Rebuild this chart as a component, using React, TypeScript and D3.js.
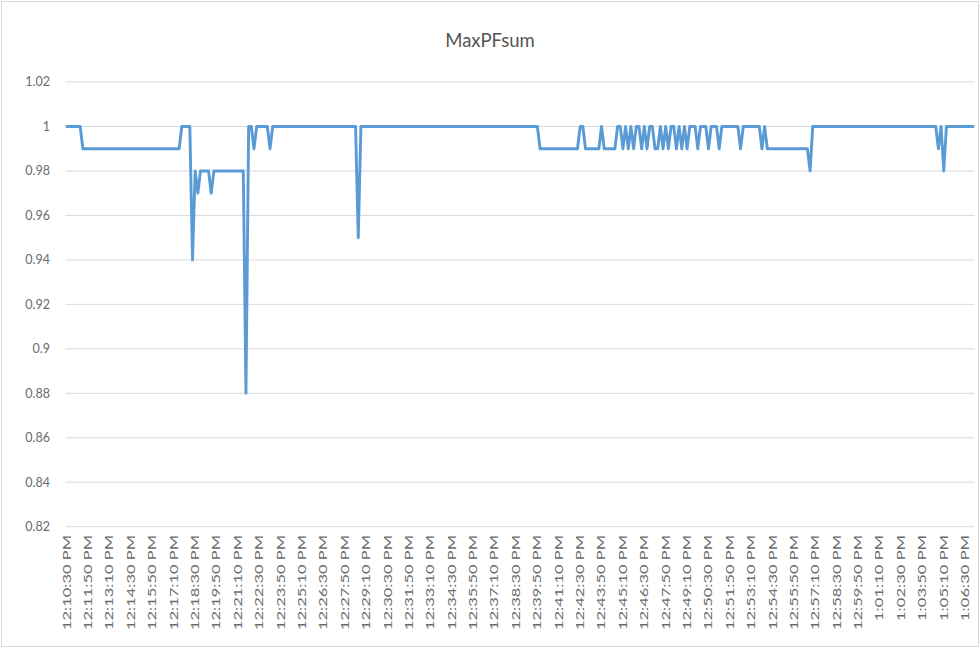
import React from "react";
import * as d3 from "d3";

const title = "MaxPFsum";

const yTicks = [0.82, 0.84, 0.86, 0.88, 0.9, 0.92, 0.94, 0.96, 0.98, 1, 1.02];

const tickLabels = [
  "12:10:30 PM", "12:11:50 PM", "12:13:10 PM", "12:14:30 PM", "12:15:50 PM",
  "12:17:10 PM", "12:18:30 PM", "12:19:50 PM", "12:21:10 PM", "12:22:30 PM",
  "12:23:50 PM", "12:25:10 PM", "12:26:30 PM", "12:27:50 PM", "12:29:10 PM",
  "12:30:30 PM", "12:31:50 PM", "12:33:10 PM", "12:34:30 PM", "12:35:50 PM",
  "12:37:10 PM", "12:38:30 PM", "12:39:50 PM", "12:41:10 PM", "12:42:30 PM",
  "12:43:50 PM", "12:45:10 PM", "12:46:30 PM", "12:47:50 PM", "12:49:10 PM",
  "12:50:30 PM", "12:51:50 PM", "12:53:10 PM", "12:54:30 PM", "12:55:50 PM",
  "12:57:10 PM", "12:58:30 PM", "12:59:50 PM", "1:01:10 PM", "1:02:30 PM",
  "1:03:50 PM", "1:05:10 PM", "1:06:30 PM",
];

// one reading every 10 seconds, labels every 8th category
const labelEvery = 8;

const maxPFsum = [
  1, 1, 1, 1, 1, 1, 0.99, 0.99, 0.99, 0.99,
  0.99, 0.99, 0.99, 0.99, 0.99, 0.99, 0.99, 0.99, 0.99, 0.99,
  0.99, 0.99, 0.99, 0.99, 0.99, 0.99, 0.99, 0.99, 0.99, 0.99,
  0.99, 0.99, 0.99, 0.99, 0.99, 0.99, 0.99, 0.99, 0.99, 0.99,
  0.99, 0.99, 0.99, 1, 1, 1, 1, 0.94, 0.98, 0.97,
  0.98, 0.98, 0.98, 0.98, 0.97, 0.98, 0.98, 0.98, 0.98, 0.98,
  0.98, 0.98, 0.98, 0.98, 0.98, 0.98, 0.98, 0.88, 1, 1,
  0.99, 1, 1, 1, 1, 1, 0.99, 1, 1, 1,
  1, 1, 1, 1, 1, 1, 1, 1, 1, 1,
  1, 1, 1, 1, 1, 1, 1, 1, 1, 1,
  1, 1, 1, 1, 1, 1, 1, 1, 1, 0.95,
  1, 1, 1, 1, 1, 1, 1, 1, 1, 1,
  1, 1, 1, 1, 1, 1, 1, 1, 1, 1,
  1, 1, 1, 1, 1, 1, 1, 1, 1, 1,
  1, 1, 1, 1, 1, 1, 1, 1, 1, 1,
  1, 1, 1, 1, 1, 1, 1, 1, 1, 1,
  1, 1, 1, 1, 1, 1, 1, 1, 1, 1,
  1, 1, 1, 1, 1, 1, 1, 0.99, 0.99, 0.99,
  0.99, 0.99, 0.99, 0.99, 0.99, 0.99, 0.99, 0.99, 0.99, 0.99,
  0.99, 0.99, 1, 1, 0.99, 0.99, 0.99, 0.99, 0.99, 0.99,
  1, 0.99, 0.99, 0.99, 0.99, 0.99, 1, 1, 0.99, 1,
  0.99, 1, 0.99, 1, 1, 0.99, 1, 0.99, 1, 1,
  0.99, 0.99, 1, 0.99, 1, 0.99, 1, 1, 0.99, 1,
  0.99, 1, 0.99, 1, 1, 1, 0.99, 1, 1, 1,
  0.99, 1, 1, 1, 0.99, 1, 1, 1, 1, 1,
  1, 1, 0.99, 1, 1, 1, 1, 1, 1, 1,
  0.99, 1, 0.99, 0.99, 0.99, 0.99, 0.99, 0.99, 0.99, 0.99,
  0.99, 0.99, 0.99, 0.99, 0.99, 0.99, 0.99, 0.99, 0.98, 1,
  1, 1, 1, 1, 1, 1, 1, 1, 1, 1,
  1, 1, 1, 1, 1, 1, 1, 1, 1, 1,
  1, 1, 1, 1, 1, 1, 1, 1, 1, 1,
  1, 1, 1, 1, 1, 1, 1, 1, 1, 1,
  1, 1, 1, 1, 1, 1, 0.99, 1, 0.98, 1,
  1, 1, 1, 1, 1, 1, 1, 1, 1, 1,
];

const W = 980;
const H = 648;
const plot = { left: 65.5, right: 974.5, top: 82, bottom: 526.7 };
const font = "Lato, 'Open Sans', 'Liberation Sans', sans-serif";
const textColor = "#6b6b6b";

export default function App() {
  const idx = maxPFsum.map((_, i) => i);
  const x = d3.scaleBand<number>().domain(idx).range([plot.left, plot.right]).padding(0);
  const cx = (i: number) => (x(i) as number) + x.bandwidth() / 2;
  const y = d3.scaleLinear().domain([0.82, 1.02]).range([plot.bottom, plot.top]);
  const line = d3
    .line<number>()
    .x((_, i) => cx(i))
    .y((d) => y(d));

  return (
    <svg
      width={W}
      height={H}
      style={{ position: "absolute", left: 0, top: 0, background: "#fff" }}
    >
      <rect x={0} y={0} width={W} height={H} fill="#fff" />
      <rect x={1.5} y={1.5} width={W - 3} height={H - 3} fill="none" stroke="#d9d9d9" strokeWidth={1} />
      <text
        x={490}
        y={47}
        textAnchor="middle"
        fontFamily={font}
        fontSize={18.5}
        fill="#555"
      >
        {title}
      </text>
      {yTicks.map((t) => (
        <g key={t}>
          <line
            x1={plot.left}
            x2={plot.right}
            y1={y(t)}
            y2={y(t)}
            stroke="#d9d9d9"
            strokeWidth={1}
          />
          <text
            x={50}
            y={y(t)}
            dy="0.35em"
            textAnchor="end"
            fontFamily={font}
            fontSize={12.5}
            fill={textColor}
          >
            {d3.format("~g")(t)}
          </text>
        </g>
      ))}
      <path
        d={line(maxPFsum) || ""}
        fill="none"
        stroke="#5b9bd5"
        strokeWidth={2.9}
        strokeLinejoin="round"
        strokeLinecap="round"
      />
      {tickLabels.map((lab, k) => {
        const px = cx(k * labelEvery);
        const py = 535;
        return (
          <text
            key={lab}
            transform={`translate(${px},${py}) rotate(-90)`}
            textAnchor="end"
            dy="0.35em"
            fontFamily={font}
            fontSize={11}
            fill={textColor}
            textLength={lab.startsWith("1:") && !lab.startsWith("12") ? 86 : 95}
            lengthAdjust="spacingAndGlyphs"
          >
            {lab}
          </text>
        );
      })}
    </svg>
  );
}
